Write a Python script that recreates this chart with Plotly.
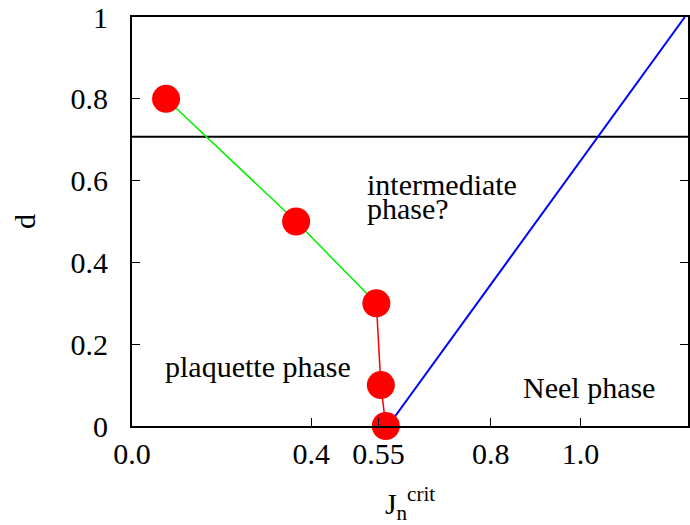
import plotly.graph_objects as go

# Data
jn_points = [0.076, 0.366, 0.545, 0.555, 0.566]
d_points = [0.8, 0.5, 0.3, 0.1, 0.0]
green_x = [0.076, 0.366, 0.545]
green_y = [0.8, 0.5, 0.3]
red_x = [0.545, 0.555, 0.566]
red_y = [0.3, 0.1, 0.0]
blue_x = [0.571, 1.233]
blue_y = [0.0, 1.0]
hline_y = 0.7071
x_tickvals = [0.0, 0.4, 0.55, 0.8, 1.0]
x_ticktext = ["0.0", "0.4", "0.55", "0.8", "1.0"]
y_tickvals = [0, 0.2, 0.4, 0.6, 0.8, 1.0]
y_ticktext = ["0", "0.2", "0.4", "0.6", "0.8", "1"]

FONT = "Liberation Serif"
FS = 30

fig = go.Figure()
fig.add_trace(go.Scatter(x=[0, 1.24], y=[hline_y, hline_y], mode="lines",
                         line=dict(color="black", width=2), showlegend=False))
fig.add_trace(go.Scatter(x=green_x, y=green_y, mode="lines",
                         line=dict(color="#00ee00", width=1.5), showlegend=False))
fig.add_trace(go.Scatter(x=red_x, y=red_y, mode="lines",
                         line=dict(color="#ff0000", width=1.5), showlegend=False))
fig.add_trace(go.Scatter(x=blue_x, y=blue_y, mode="lines",
                         line=dict(color="#0000ff", width=2), showlegend=False))
fig.add_trace(go.Scatter(x=jn_points, y=d_points, mode="markers",
                         marker=dict(color="#ff0000", size=28), showlegend=False,
                         cliponaxis=False))

ann = [
    dict(x=0.52, y=0.59, text="intermediate", xanchor="left", yanchor="middle"),
    dict(x=0.52, y=0.532, text="phase?", xanchor="left", yanchor="middle"),
    dict(x=0.069, y=0.145, text="plaquette phase", xanchor="left", yanchor="middle"),
    dict(x=0.868, y=0.095, text="Neel phase", xanchor="left", yanchor="middle"),
]
for a in ann:
    fig.add_annotation(xref="x", yref="y", showarrow=False,
                       font=dict(family=FONT, size=FS, color="black"), **a)

fig.update_xaxes(range=[0, 1.24], tickvals=x_tickvals, ticktext=x_ticktext,
                 ticks="inside", ticklen=8, tickwidth=1, tickcolor="black",
                 showline=True, linecolor="black", linewidth=2, mirror=True,
                 showgrid=False, zeroline=False,
                 tickfont=dict(family=FONT, size=FS, color="black"),
                 title=dict(text="J<sub>n</sub><sup>crit</sup>",
                            font=dict(family=FONT, size=FS, color="black"), standoff=33))
fig.update_yaxes(range=[0, 1], tickvals=y_tickvals, ticktext=y_ticktext,
                 ticks="inside", ticklen=8, tickwidth=1, tickcolor="black",
                 showline=True, linecolor="black", linewidth=2, mirror="ticks",
                 showgrid=False, zeroline=False, ticklabelstandoff=16,
                 tickfont=dict(family=FONT, size=FS, color="black"),
                 title=dict(text="d", font=dict(family=FONT, size=FS, color="black"),
                            standoff=26))

fig.update_layout(width=690, height=525, margin=dict(l=132, r=0, t=17, b=99),
                  plot_bgcolor="white", paper_bgcolor="white")
fig.write_html("out.html", config={"displayModeBar": False},
               post_script="document.body.style.margin='0';document.body.style.overflow='hidden';")
